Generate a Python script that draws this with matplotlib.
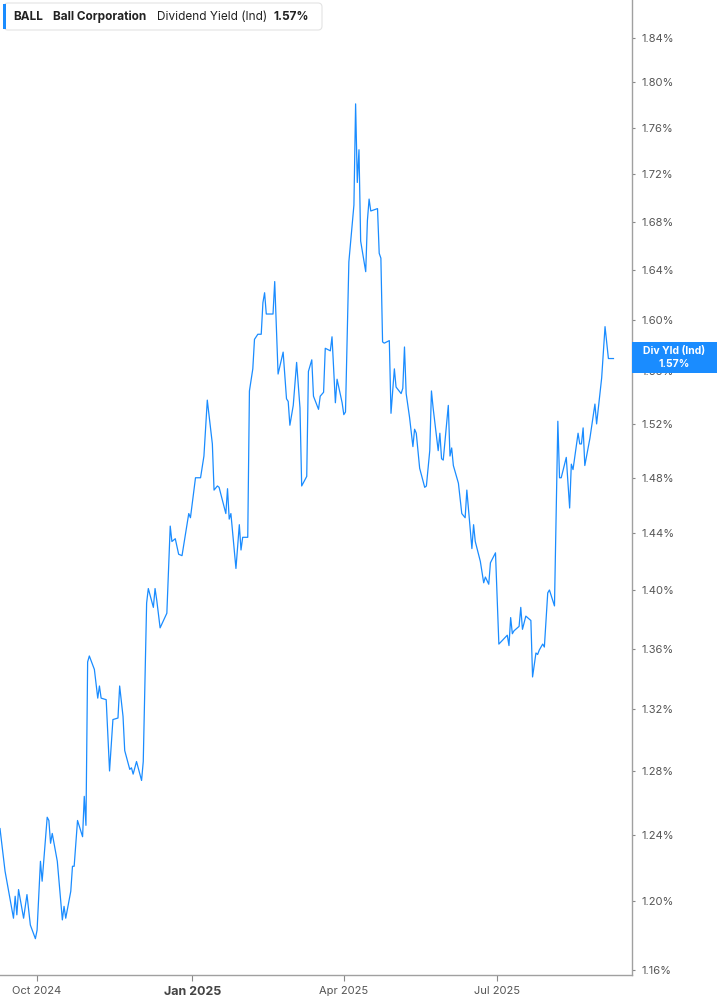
import pandas as pd
import numpy as np
import matplotlib
matplotlib.use('Agg')
import matplotlib.pyplot as plt
import matplotlib.ticker as mticker
from matplotlib.patches import FancyBboxPatch, Rectangle

plt.rcParams['font.family'] = ['Inter', 'DejaVu Sans']

# days counted from the first point, dividend yield in %
start = '2024-09-09'
days = [0, 3, 8, 9, 10, 11, 14, 16, 18, 21, 22, 24, 25, 28, 29, 30, 31, 34, 37, 38,
        39, 42, 43, 44, 46, 49, 50, 51, 52, 53, 56, 58, 59, 60, 63, 65, 67, 70, 71, 73,
        74, 77, 78, 79, 81, 84, 85, 87, 88, 91, 92, 93, 95, 99, 101, 102, 104, 106, 108, 112,
        113, 116, 119, 121, 123, 126, 127, 129, 130, 134, 135, 136, 137, 140, 142, 143, 144, 147, 148, 150,
        151, 153, 155, 156, 157, 158, 162, 163, 165, 168, 170, 171, 172, 174, 176, 178, 179, 182, 183, 185,
        186, 189, 190, 192, 193, 196, 197, 199, 200, 203, 204, 205, 207, 210, 211, 212, 213, 214, 217, 218,
        219, 220, 224, 225, 226, 227, 228, 231, 232, 234, 235, 238, 239, 240, 241, 243, 245, 246, 247, 249,
        252, 253, 255, 256, 257, 260, 261, 262, 263, 266, 267, 268, 269, 272, 274, 276, 277, 280, 281, 282,
        285, 287, 288, 290, 291, 294, 296, 301, 302, 303, 304, 305, 308, 309, 310, 312, 315, 316, 318, 319,
        320, 322, 323, 325, 326, 329, 331, 332, 333, 336, 338, 339, 340, 343, 344, 345, 346, 347, 350, 353,
        354, 357, 359, 361, 364]
yields = [1.244, 1.218, 1.190, 1.203, 1.192, 1.207, 1.190, 1.204, 1.186, 1.178, 1.183, 1.224, 1.212, 1.251, 1.249, 1.235, 1.241, 1.224, 1.189, 1.197,
          1.190, 1.206, 1.221, 1.221, 1.249, 1.239, 1.264, 1.246, 1.351, 1.355, 1.346, 1.327, 1.335, 1.327, 1.326, 1.280, 1.313, 1.314, 1.335, 1.315,
          1.293, 1.281, 1.282, 1.278, 1.286, 1.274, 1.286, 1.391, 1.401, 1.388, 1.401, 1.393, 1.374, 1.384, 1.445, 1.434, 1.436, 1.425, 1.424, 1.454,
          1.451, 1.480, 1.480, 1.496, 1.538, 1.505, 1.471, 1.474, 1.473, 1.454, 1.472, 1.450, 1.454, 1.415, 1.446, 1.428, 1.437, 1.437, 1.545, 1.562,
          1.585, 1.589, 1.589, 1.614, 1.622, 1.605, 1.605, 1.631, 1.558, 1.575, 1.539, 1.537, 1.519, 1.534, 1.567, 1.532, 1.474, 1.481, 1.560, 1.569,
          1.541, 1.531, 1.541, 1.544, 1.578, 1.576, 1.587, 1.536, 1.554, 1.536, 1.527, 1.529, 1.647, 1.694, 1.781, 1.713, 1.741, 1.664, 1.639, 1.681,
          1.699, 1.689, 1.691, 1.654, 1.650, 1.583, 1.582, 1.584, 1.528, 1.562, 1.548, 1.543, 1.547, 1.579, 1.543, 1.525, 1.503, 1.516, 1.513, 1.487,
          1.473, 1.474, 1.500, 1.545, 1.532, 1.500, 1.513, 1.494, 1.493, 1.534, 1.496, 1.502, 1.489, 1.476, 1.454, 1.451, 1.471, 1.429, 1.446, 1.434,
          1.420, 1.405, 1.409, 1.404, 1.419, 1.426, 1.363, 1.369, 1.362, 1.381, 1.370, 1.372, 1.375, 1.388, 1.373, 1.382, 1.379, 1.341, 1.357, 1.356,
          1.359, 1.363, 1.361, 1.398, 1.400, 1.389, 1.522, 1.480, 1.480, 1.495, 1.458, 1.490, 1.486, 1.513, 1.505, 1.505, 1.517, 1.489, 1.509, 1.535,
          1.520, 1.555, 1.595, 1.570, 1.570]

y_ticks = [1.16, 1.20, 1.24, 1.28, 1.32, 1.36, 1.40, 1.44, 1.48, 1.52, 1.56, 1.60, 1.64, 1.68, 1.72, 1.76, 1.80, 1.84]
x_ticks = ['2024-10-01', '2025-01-01', '2025-04-01', '2025-07-01']
x_labels = ['Oct 2024', 'Jan 2025', 'Apr 2025', 'Jul 2025']
last_val = '1.57%'

blue = '#1a8cff'
dates = pd.to_datetime(start) + pd.to_timedelta(days, unit='D')

W, H = 717, 1005
fig = plt.figure(figsize=(W / 100, H / 100), dpi=100)
ax = fig.add_axes([0, 30 / H, 632 / W, 975 / H])
ax.plot(dates, yields, color=blue, lw=0.9)

ax.set_yscale('log')
ax.set_ylim(1.157, 1.875)
ax.set_xlim(pd.Timestamp(start), pd.Timestamp(start) + pd.Timedelta(days=375))
ax.yaxis.tick_right()
ax.yaxis.set_major_locator(mticker.FixedLocator(y_ticks))
ax.yaxis.set_minor_locator(mticker.NullLocator())
ax.yaxis.set_major_formatter(mticker.FuncFormatter(lambda v, p: f'{v:.2f}%'))
ax.set_xticks(pd.to_datetime(x_ticks))
ax.set_xticklabels(x_labels)

for s in ['left', 'top']:
    ax.spines[s].set_visible(False)
for s in ['right', 'bottom']:
    ax.spines[s].set_color('#a0a0a0')
    ax.spines[s].set_linewidth(1.0)
ax.tick_params(axis='y', length=2.5, width=0.8, color='#888888', labelcolor='#555555', labelsize=8, pad=4)
ax.tick_params(axis='x', length=4, width=0.8, color='#888888', labelcolor='#555555', labelsize=8, pad=4)
for lab in ax.get_xticklabels():
    if lab.get_text() == 'Jan 2025':
        lab.set_fontweight('bold')
        lab.set_fontsize(9)
        lab.set_color('#444444')

# current value tag on the right (covers part of the 1.56% label, as in the original)
fig.add_artist(Rectangle((632 / W, 1 - 373 / H), 85 / W, 31 / H, transform=fig.transFigure,
                         facecolor=blue, edgecolor='none', zorder=10))
fig.text(674.5 / W, 1 - 351 / H, 'Div Yld (Ind)', color='white', fontsize=7.5, fontweight='bold',
         ha='center', va='center', zorder=11)
fig.text(674.5 / W, 1 - 364 / H, last_val, color='white', fontsize=7.5, fontweight='bold',
         ha='center', va='center', zorder=11)

# header legend box
tr = fig.dpi_scale_trans
fig.add_artist(FancyBboxPatch((0.04, (H - 30) / 100), 3.18, 0.27, boxstyle='round,pad=0,rounding_size=0.04',
                              transform=tr, facecolor='white', edgecolor='#e3e3e3', lw=0.8, zorder=10))
fig.add_artist(Rectangle((0.03, (H - 29) / 100), 0.03, 0.25, transform=tr, facecolor=blue,
                         edgecolor='none', zorder=11))
hy = 1 - 16.5 / H
fig.text(13 / W, hy, 'BALL', fontsize=8.5, fontweight='bold', color='#222222', va='center', zorder=12)
fig.text(53 / W, hy, 'Ball Corporation', fontsize=8.5, fontweight='bold', color='#222222', va='center', zorder=12)
fig.text(157 / W, hy, 'Dividend Yield (Ind)', fontsize=8.5, color='#222222', va='center', zorder=12)
fig.text(273 / W, hy, last_val, fontsize=8.5, fontweight='bold', color='#222222', va='center', zorder=12)

fig.savefig('out.png', dpi=100)
